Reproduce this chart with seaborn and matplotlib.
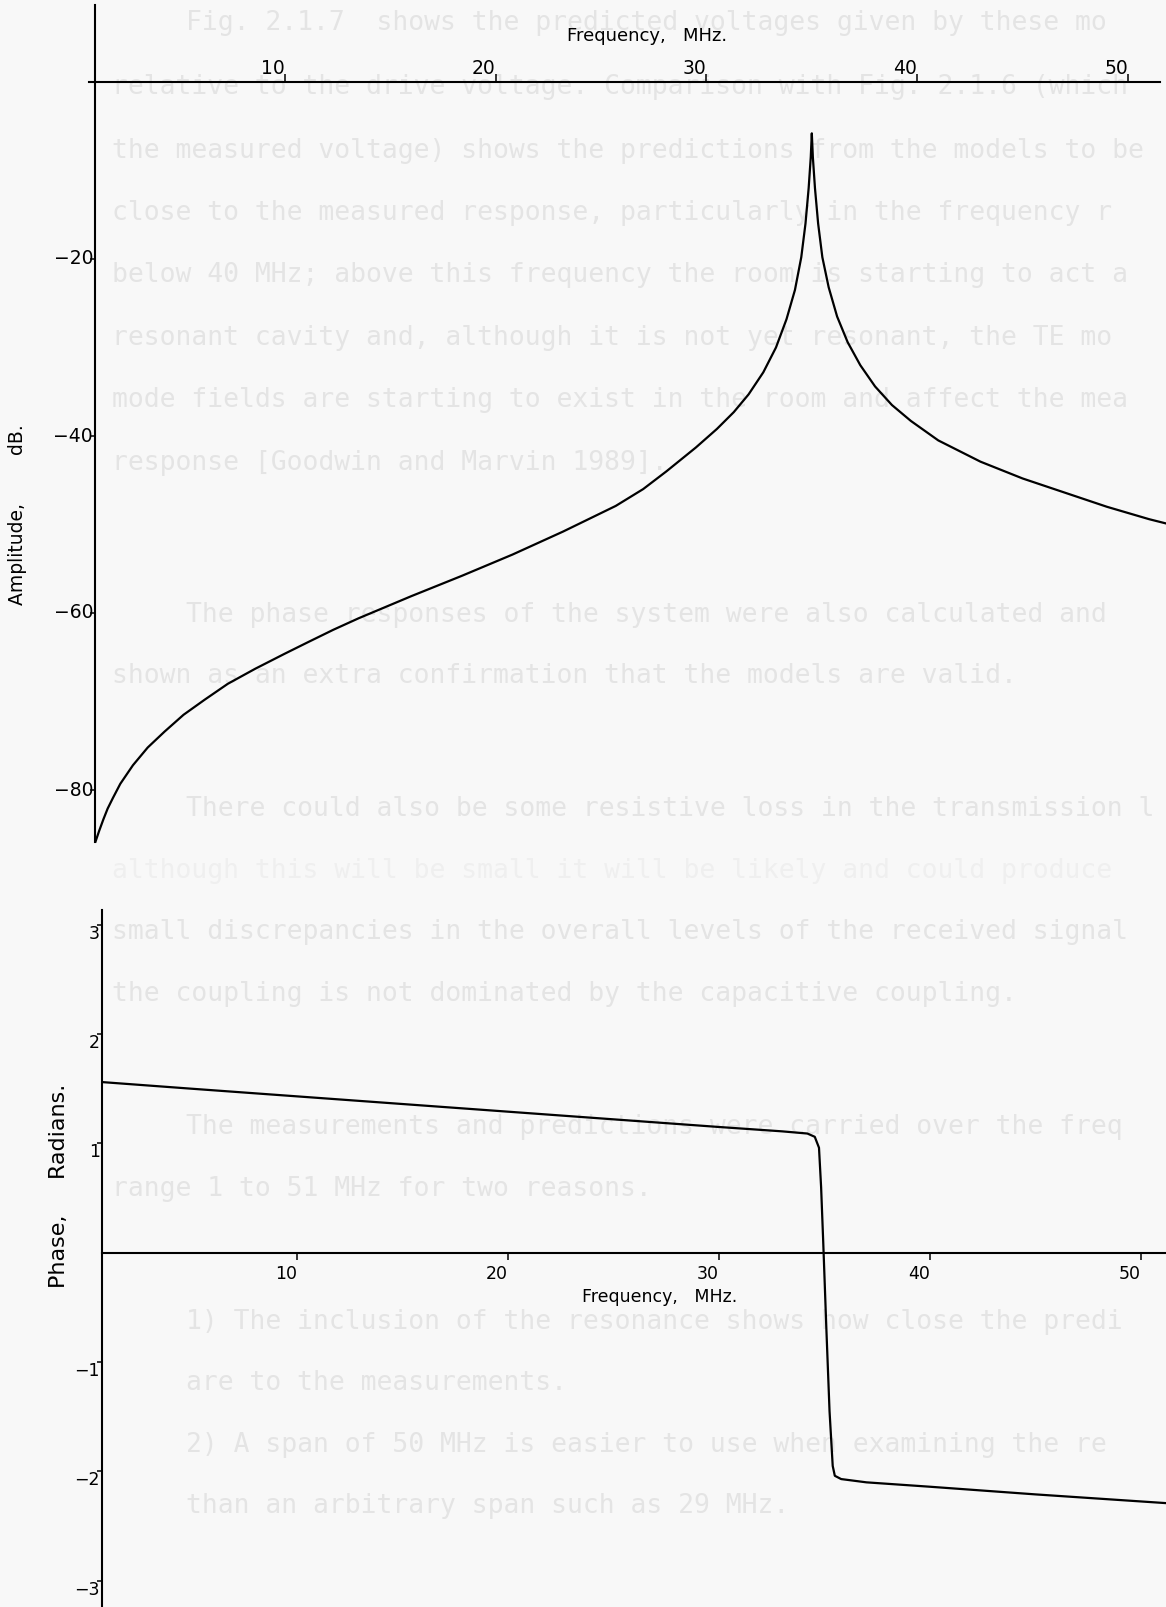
import numpy as np
import pandas as pd
import seaborn as sns
import matplotlib.pyplot as plt

# amplitude response
freq_amp = [1.0, 1.2, 1.4, 1.6, 1.85, 2.2, 2.8, 3.5, 4.3, 5.2, 6.2, 7.3, 8.6, 10.0, 11.1, 12.3,
            13.5, 16, 18.4, 20.8, 23.2, 25.7, 27.0, 28.1, 29.5, 30.5, 31.3, 32.0, 32.7, 33.3,
            33.8, 34.2, 34.5, 34.7, 34.85, 34.95, 35.0, 35.05, 35.15, 35.3, 35.5, 35.8, 36.2,
            36.7, 37.3, 38.0, 38.8, 39.7, 41, 43, 45, 47, 49, 51, 52]
amp_db = [-86.0, -84.6, -83.3, -82.1, -80.9, -79.3, -77.2, -75.2, -73.4, -71.5, -69.8, -68.0,
          -66.3, -64.6, -63.3, -61.9, -60.6, -58.1, -55.8, -53.4, -50.8, -47.9, -46.0, -44.0,
          -41.3, -39.2, -37.3, -35.3, -32.8, -30.0, -26.8, -23.5, -19.8, -16.0, -12.0, -8.5,
          -5.8, -8.5, -12.0, -16.0, -19.8, -23.2, -26.5, -29.4, -32.0, -34.4, -36.5, -38.3,
          -40.5, -42.9, -44.8, -46.4, -48.0, -49.4, -50.0]

# phase response
freq_phase = [0.8, 5, 10, 15, 20, 25, 30, 33, 34.2, 34.55, 34.75, 34.85, 34.95, 35.1, 35.25,
              35.4, 35.5, 35.8, 37, 40, 45, 51.2]
phase_rad = [1.56, 1.50, 1.43, 1.36, 1.29, 1.22, 1.15, 1.11, 1.09, 1.06, 0.96, 0.60, 0.10,
             -0.70, -1.45, -1.95, -2.04, -2.07, -2.10, -2.14, -2.21, -2.29]

amp_ticks = [-20, -40, -60, -80]
phase_ticks = [3, 2, 1, -1, -2, -3]
freq_ticks = [10, 20, 30, 40, 50]

# faint typewritten page text showing through the scan
page_lines = [
    "Fig. 2.1.7  shows the predicted voltages given by these mo",
    "relative to the drive voltage. Comparison with Fig. 2.1.6 (which",
    "the measured voltage) shows the predictions from the models to be",
    "close to the measured response, particularly in the frequency r",
    "below 40 MHz; above this frequency the room is starting to act a",
    "resonant cavity and, although it is not yet resonant, the TE mo",
    "mode fields are starting to exist in the room and affect the mea",
    "response [Goodwin and Marvin 1989].",
    "The phase responses of the system were also calculated and",
    "shown as an extra confirmation that the models are valid.",
    "There could also be some resistive loss in the transmission l",
    "although this will be small it will be likely and could produce",
    "small discrepancies in the overall levels of the received signal",
    "the coupling is not dominated by the capacitive coupling.",
    "The measurements and predictions were carried over the freq",
    "range 1 to 51 MHz for two reasons.",
    "1) The inclusion of the resonance shows how close the predi",
    "are to the measurements.",
    "2) A span of 50 MHz is easier to use when examining the re",
    "than an arbitrary span such as 29 MHz.",
]
line_y = [23, 87, 151, 213, 275, 338, 400, 463, 615, 676, 809, 871, 932, 994,
          1127, 1189, 1322, 1383, 1445, 1506]
indented = [0, 8, 10, 14, 16, 17, 18, 19]

W, H = 1166, 1607
fig = plt.figure(figsize=(W / 100, H / 100), dpi=100, facecolor='#f8f8f8')

for i, (txt, y) in enumerate(zip(page_lines, line_y)):
    x0 = 186 if i in indented else 112
    col = '#efefef' if i == 11 else '#e4e4e4'
    fig.text(x0 / W, 1 - y / H, txt, family='DejaVu Sans Mono', fontsize=19,
             color=col, va='center', ha='left', zorder=-5)

# ---- amplitude plot ----
ax1 = fig.add_axes([95 / W, 1 - 843 / H, 1071 / W, 843 / H])
ax1.set_facecolor('none')
sns.lineplot(x=freq_amp, y=amp_db, ax=ax1, color='black', linewidth=1.6, estimator=None)
ax1.set_xlim(1, 51.8)
ax1.set_ylim(-(843 - 82) / 8.85, 82 / 8.85)
ax1.spines['right'].set_visible(False)
ax1.spines['bottom'].set_visible(False)
ax1.spines['top'].set_position(('data', 0))
ax1.spines['top'].set_bounds(0.7, 51.5)
ax1.spines['left'].set_bounds(-85.9, 8.7)
for s in ['top', 'left']:
    ax1.spines[s].set_linewidth(1.5)
ax1.xaxis.set_ticks_position('top')
ax1.set_xticks(freq_ticks)
ax1.set_yticks(amp_ticks)
ax1.tick_params(axis='x', direction='out', length=5.5, width=1.1, pad=-2.3, labelsize=13.5)
ax1.tick_params(axis='y', direction='out', length=3.6, width=1.1, pad=-2.2, labelsize=13.5)
ax1.set_xlabel('Frequency,   MHz.', fontsize=13, va='center')
ax1.xaxis.set_label_position('top')
ax1.xaxis.set_label_coords(0.515, 0.951)
ax1.set_ylabel('Amplitude,        dB.', fontsize=13.5, va='center')
ax1.yaxis.set_label_coords(-0.0719, 0.389)

# ---- phase plot ----
ax2 = fig.add_axes([102 / W, 0, 1064 / W, 702 / H])
ax2.set_facecolor('none')
sns.lineplot(x=freq_phase, y=phase_rad, ax=ax2, color='black', linewidth=1.6, estimator=None)
ax2.set_xlim(0.76, 51.2)
ax2.set_ylim(-3.24, 3.18)
ax2.spines['right'].set_visible(False)
ax2.spines['top'].set_visible(False)
ax2.spines['bottom'].set_position(('data', 0))
ax2.spines['bottom'].set_bounds(0.76, 51.2)
ax2.spines['left'].set_bounds(-3.24, 3.13)
for s in ['bottom', 'left']:
    ax2.spines[s].set_linewidth(1.5)
ax2.set_xticks(freq_ticks)
ax2.set_yticks(phase_ticks)
ax2.tick_params(axis='x', direction='out', length=5, width=1.1, pad=4, labelsize=12.5)
ax2.tick_params(axis='y', direction='out', length=3.6, width=1.1, pad=-2.2, labelsize=12.5)
ax2.set_xlabel('Frequency,   MHz.', fontsize=12.5, va='center')
ax2.xaxis.set_label_coords(0.524, 0.4416)
ax2.set_ylabel('Phase,     Radians.', fontsize=16, va='center')
ax2.yaxis.set_label_coords(-0.04, 0.60)

for ax in (ax1, ax2):
    for lbl in ax.get_xticklabels():
        lbl.set_ha('right')
for lbl in ax1.get_yticklabels():
    lbl.set_va('center')
for lbl in ax2.get_yticklabels():
    lbl.set_va('top')

fig.savefig('out.png', dpi=100, facecolor=fig.get_facecolor())
